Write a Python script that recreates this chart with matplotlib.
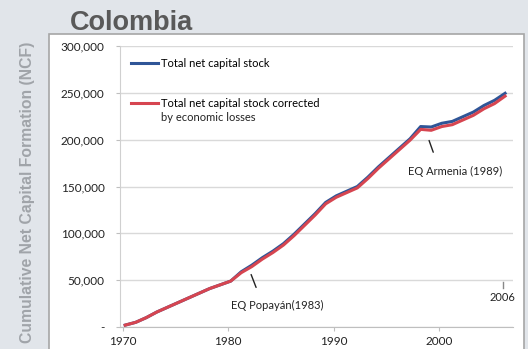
import matplotlib
matplotlib.use("Agg")
import matplotlib.pyplot as plt
from matplotlib.patches import Rectangle
from matplotlib.ticker import FuncFormatter

# Cumulative net capital formation, Colombia 1970-2006
years = list(range(1970, 2007))
total_stock = [2000, 5000, 10000, 16000, 21000, 26000, 31000, 36000, 41000, 45000,
               49000, 59000, 66000, 74000, 81000, 89000, 99000, 110000, 121000, 133000,
               140000, 145000, 150000, 160000, 171000, 181000, 191000, 201000, 214000, 213500,
               217500, 219500, 224500, 229500, 236500, 242000, 249500]
corrected_stock = [2000, 5000, 10000, 16000, 21000, 26000, 31000, 36000, 41000, 45000,
                   49000, 58000, 64500, 72500, 79500, 87500, 97500, 108500, 119500, 131500,
                   138500, 143500, 148500, 158500, 169500, 179500, 189500, 199500, 211000, 210000,
                   214000, 216000, 221000, 226000, 233000, 238500, 246500]
x_ticks = [1970, 1980, 1990, 2000]
y_ticks = [0, 50000, 100000, 150000, 200000, 250000, 300000]

# points sit a quarter year into each category
xs = [y + 0.25 for y in years]

plt.rcParams["font.family"] = ["Lato", "DejaVu Sans"]

fig = plt.figure(figsize=(5.28, 3.49), dpi=100, facecolor="#e1e5ea")
fig.patches.append(Rectangle((49 / 528, -0.01), 475 / 528, 1.01 - 34 / 349, transform=fig.transFigure,
                             facecolor="white", edgecolor="#a6a6a6", linewidth=1.2, zorder=-5))

ax = fig.add_axes([120 / 528, 1 - 327 / 349, 393 / 528, 281 / 349])
ax.set_facecolor("none")

ax.plot(xs, total_stock, color="#2f5597", linewidth=2.2, label="Total net capital stock", zorder=3)
ax.plot(xs, corrected_stock, color="#d64550", linewidth=2.2,
        label="Total net capital stock corrected", zorder=3)

ax.set_xlim(1969.76, 2007.0)
ax.set_ylim(0, 300000)
ax.set_xticks(x_ticks)
ax.set_yticks(y_ticks)
ax.yaxis.set_major_formatter(FuncFormatter(lambda v, p: "-" if v == 0 else f"{int(v):,}"))
ax.grid(axis="y", color="#d9d9d9", linewidth=1)
ax.set_axisbelow(True)
for s in ["top", "right"]:
    ax.spines[s].set_visible(False)
ax.spines["left"].set_color("#d0d0d0")
ax.spines["bottom"].set_color("#bfbfbf")
ax.tick_params(axis="both", colors="#bfbfbf", labelcolor="#222222", labelsize=8.5, length=3)
ax.tick_params(axis="y", pad=8)

leg = ax.legend(loc="upper left", bbox_to_anchor=(0.008, 0.985), frameon=False, fontsize=8,
                handlelength=2.4, handletextpad=0.3, labelspacing=2.6, borderaxespad=0.3)
# second line of the red legend entry
ax.text(0.1043, 0.744, "by economic losses", transform=ax.transAxes, fontsize=8,
        ha="left", va="center", color="#222222")

ax.annotate("", xy=(1999.53, 183800), xytext=(1998.96, 201900),
            arrowprops=dict(arrowstyle="-", color="#222222", lw=1))
ax.text(2001.5, 165600, "EQ Armenia (1989)", fontsize=8, ha="center", va="center", color="#222222")
ax.annotate("", xy=(1982.75, 39500), xytext=(1982.09, 58760),
            arrowprops=dict(arrowstyle="-", color="#222222", lw=1))
ax.text(1984.7, 23500, "EQ Popayán(1983)", fontsize=8, ha="center", va="center", color="#222222")
ax.plot([2006.07, 2006.07], [41700, 48000], color="#888888", lw=1)
ax.text(2006.0, 31000, "2006", fontsize=8, ha="center", va="center", color="#222222")

fig.text(70 / 528, 1 - 30 / 349, "Colombia", fontsize=19.5, fontweight="bold", color="#595959",
         family="Liberation Sans", va="baseline", ha="left")
fig.text(28 / 528, 1 - 192 / 349, "Cumulative Net Capital Formation (NCF)", fontsize=11.3,
         fontweight="bold", color="#a0a4a9", family="Liberation Sans", rotation=90,
         va="center", ha="center")

fig.savefig("out.png", dpi=100, facecolor=fig.get_facecolor())
